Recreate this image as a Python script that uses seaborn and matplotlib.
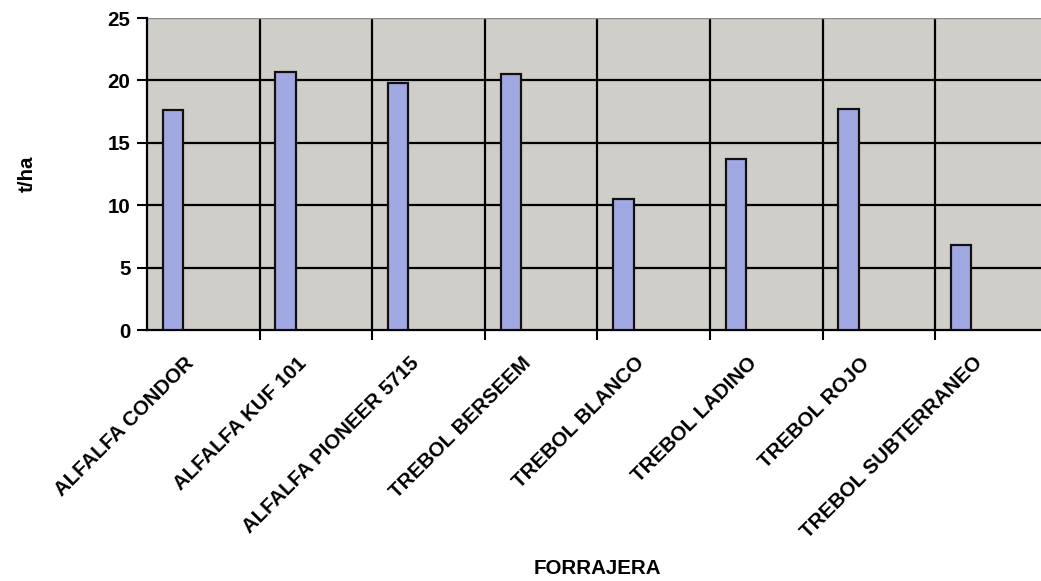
import matplotlib
matplotlib.use("Agg")
import matplotlib.pyplot as plt
from matplotlib.ticker import FixedLocator
from matplotlib.transforms import ScaledTranslation
import seaborn as sns
import pandas as pd

forrajeras = [
    "ALFALFA CONDOR",
    "ALFALFA KUF 101",
    "ALFALFA PIONEER 5715",
    "TREBOL BERSEEM",
    "TREBOL BLANCO",
    "TREBOL LADINO",
    "TREBOL ROJO",
    "TREBOL SUBTERRANEO",
]
rendimiento = [17.6, 20.7, 19.8, 20.5, 10.5, 13.7, 17.7, 6.8]
y_ticks = [0, 5, 10, 15, 20, 25]

df = pd.DataFrame({"FORRAJERA": forrajeras, "t/ha": rendimiento})

sns.set_theme(style="white")
plt.rcParams["font.family"] = ["Liberation Sans", "DejaVu Sans"]
plt.rcParams["font.weight"] = "bold"
plt.rcParams["text.color"] = "black"
plt.rcParams["axes.labelcolor"] = "black"
plt.rcParams["xtick.color"] = "black"
plt.rcParams["ytick.color"] = "black"

FS = 14.8

fig = plt.figure(figsize=(10.41, 5.81), dpi=100)
ax = fig.add_axes([0.1412, 0.432, 0.8655, 0.537])
ax.set_facecolor("#d0cec9")

bar_w = 0.18
sns.barplot(data=df, x="FORRAJERA", y="t/ha", color="#a2a9e2",
            width=bar_w, saturation=1, edgecolor="#111111", linewidth=1.6,
            ax=ax, zorder=3)
# bars sit in the left part of each category slot
for p in ax.patches:
    p.set_x(p.get_x() - 0.27)

ax.set_xlim(-0.5, len(forrajeras) - 0.5)
ax.set_ylim(0, 25)
ax.set_yticks(y_ticks)
ax.set_yticklabels([str(t) for t in y_ticks], fontsize=FS, fontweight="bold",
                   color="black")

# slot boundaries carry the vertical grid and outward tick marks
ax.xaxis.set_minor_locator(FixedLocator([i + 0.5 for i in range(len(forrajeras))]))
ax.tick_params(axis="x", which="major", length=0, pad=6)
ax.tick_params(axis="x", which="minor", length=7, width=1.5, color="black",
               direction="out", bottom=True)
ax.tick_params(axis="y", length=7, width=1.5, color="black", direction="out",
               left=True, pad=5)
ax.set_xticks(range(len(forrajeras)))
ax.set_xticklabels(forrajeras, rotation=45, ha="right", rotation_mode="anchor",
                   fontsize=FS, fontweight="bold", color="black")
shift = ScaledTranslation(-14 / 72, -11 / 72, fig.dpi_scale_trans)
for lab in ax.get_xticklabels():
    lab.set_transform(lab.get_transform() + shift)

for y in y_ticks[1:-1]:
    ax.axhline(y, color="black", linewidth=1.6, zorder=1)
for x in range(len(forrajeras)):
    ax.axvline(x + 0.5, color="black", linewidth=1.6, zorder=1)

for side in ["top", "right"]:
    ax.spines[side].set_visible(False)
ax.spines["left"].set_color("black")
ax.spines["left"].set_linewidth(1.6)
ax.spines["bottom"].set_color("black")
ax.spines["bottom"].set_linewidth(1.6)
ax.axhline(25, color="#8a8a8a", linewidth=1.0, zorder=1)

ax.set_xlabel("FORRAJERA", fontsize=FS, fontweight="bold", color="black")
ax.xaxis.set_label_coords(0.5, -0.735)
ax.set_ylabel("t/ha", fontsize=FS, fontweight="bold", color="black")
ax.yaxis.set_label_coords(-0.122, 0.5)

fig.savefig("out.png", dpi=100)
